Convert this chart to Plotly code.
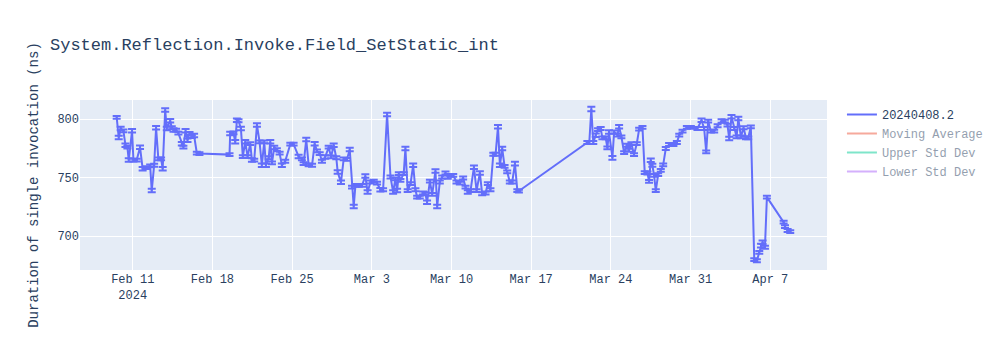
import pandas as pd
import plotly.graph_objects as go

day_offsets = [
    -1.41, -1.23, -1.06, -0.82, -0.64, -0.47, -0.35, -0.06, 0.06, 0.35,
    0.64, 0.87, 1.23, 1.53, 1.67, 1.88, 2.05, 2.25, 2.49, 2.63,
    2.85, 2.99, 3.29, 3.43, 3.58, 3.81, 4.01, 4.31, 4.45, 4.64,
    4.81, 4.99, 5.19, 5.39, 5.63, 5.86, 8.50, 8.56, 8.85, 9.00,
    9.15, 9.29, 9.50, 9.67, 9.88, 10.09, 10.32, 10.47, 10.67, 10.91,
    11.14, 11.34, 11.55, 11.70, 11.94, 12.08, 12.23, 12.43, 12.66, 12.90,
    13.10, 13.39, 13.84, 14.13, 14.57, 14.86, 15.01, 15.24, 15.45, 15.75,
    15.98, 16.18, 16.42, 16.62, 16.91, 17.21, 17.42, 17.65, 17.88, 18.00,
    18.29, 18.53, 18.82, 19.06, 19.26, 19.41, 19.56, 19.85, 20.14, 20.43,
    20.63, 20.88, 21.17, 21.46, 21.75, 21.99, 22.34, 22.64, 22.87, 23.07,
    23.22, 23.37, 23.51, 23.80, 23.95, 24.15, 24.40, 24.63, 24.83, 24.98,
    25.21, 25.50, 25.71, 25.85, 26.10, 26.30, 26.59, 26.74, 26.97, 27.18,
    27.47, 27.67, 27.92, 28.15, 28.44, 28.73, 29.02, 29.23, 29.43, 29.67,
    29.97, 30.20, 30.49, 30.69, 30.99, 31.19, 31.42, 31.67, 31.87, 32.08,
    32.25, 32.45, 32.66, 32.89, 33.12, 33.33, 33.57, 33.78, 33.92, 39.93,
    40.10, 40.28, 40.45, 40.67, 40.87, 41.10, 41.25, 41.54, 41.69, 41.83,
    42.13, 42.28, 42.57, 42.72, 42.92, 43.16, 43.39, 43.59, 43.80, 44.03,
    44.27, 44.48, 44.77, 44.97, 45.21, 45.35, 45.50, 45.64, 45.79, 45.94,
    46.15, 46.38, 46.59, 46.82, 47.11, 47.49, 47.79, 48.00, 48.29, 48.67,
    49.02, 49.60, 49.96, 50.19, 50.37, 50.54, 50.78, 51.07, 51.37, 51.72,
    52.01, 52.24, 52.39, 52.59, 52.83, 53.04, 53.19, 53.42, 53.65, 53.86,
    54.06, 54.29, 54.59, 54.82, 55.03, 55.18, 55.32, 55.53, 55.70, 57.17,
    57.29, 57.52, 57.75,
]

durations_ns = [
    801.4, 784.3, 792, 790, 777.7, 776, 765, 790, 765, 765,
    776, 757.7, 758.6, 760, 739, 760.6, 792.6, 766, 766, 757.7,
    807.7, 792, 798.6, 792.6, 790.6, 790.6, 788, 779, 776, 790,
    782, 787.7, 785, 786, 771, 770.6, 769.7, 787.7, 788.3, 780.6,
    799, 798.6, 792, 768, 780.6, 768, 779, 765, 765, 795,
    780.6, 760.6, 780.6, 760.6, 767, 780.6, 762.6, 775.7, 774, 771,
    760.6, 764, 778.6, 778.6, 768, 766, 762, 782.6, 761, 760.6,
    779, 772.9, 770.6, 764, 767.7, 776, 767.7, 777.7, 767, 754.9,
    746, 766, 765.7, 774, 742, 725.4, 743.4, 743.4, 743.4, 751.4,
    737.7, 746.3, 747, 745.4, 739.7, 739.7, 804, 750.6, 737.7, 749,
    739, 753.4, 747.7, 753.4, 774.9, 739, 744.9, 760.6, 739.7, 733.4,
    733.4, 736.9, 736.3, 729, 747, 735.7, 755.7, 725.4, 746.3, 750.6,
    754, 750.6, 752, 752, 746.3, 745.4, 749.7, 742, 737.7, 739,
    759, 739, 754, 736.3, 736.9, 744.9, 739.7, 770, 770, 793.4,
    760.6, 774.9, 759.7, 754.9, 746.3, 746.3, 762, 739, 738.6, 780,
    780, 808.6, 780, 786.3, 791, 792, 784, 784, 775.4, 789,
    766.9, 789, 786.3, 793.4, 784.9, 771.4, 777.7, 773.4, 779, 769.7,
    779, 791.4, 793, 754.3, 754, 746.9, 764.9, 760.6, 752, 739,
    752.6, 756.3, 761, 774.9, 778.3, 778.3, 780, 786.3, 789.7, 793,
    793, 792, 799, 792, 772, 798.3, 789.7, 789.7, 794.3, 798.3,
    798.3, 794.9, 783.4, 802, 792, 784.9, 800.6, 784.9, 792.6, 784,
    784, 793.4, 680, 679.1, 686.3, 692, 694.9, 690.6, 733.4, 712,
    708.3, 704.9, 704,
]

errors_ns = [
    1.2, 1.5, 1.5, 1.2, 1.5, 1.2, 1.5, 1.5, 1.2, 1.2,
    1.5, 1.5, 1.2, 1.2, 1.5, 1.2, 1.5, 1.2, 1.2, 1.5,
    1.5, 1.5, 1.5, 1.2, 1.5, 1.2, 1.2, 1.5, 1.2, 1.5,
    1.5, 1.2, 1.2, 1.5, 1.2, 1.2, 1.2, 1.5, 1.2, 1.5,
    1.5, 1.2, 1.5, 1.2, 1.5, 1.2, 1.2, 1.5, 1.2, 1.5,
    1.2, 1.5, 1.2, 1.5, 1.2, 1.5, 1.2, 1.5, 1.2, 1.2,
    1.5, 1.2, 1.2, 1.2, 1.5, 1.2, 1.2, 1.5, 1.2, 1.2,
    1.5, 1.2, 1.2, 1.2, 1.5, 1.2, 1.2, 1.5, 1.2, 1.5,
    1.5, 1.2, 1.2, 1.5, 1.2, 1.5, 1.2, 1.2, 1.2, 1.5,
    1.5, 1.2, 1.2, 1.2, 1.5, 1.2, 1.5, 1.2, 1.5, 1.2,
    1.5, 1.2, 1.2, 1.2, 1.5, 1.2, 1.2, 1.5, 1.2, 1.2,
    1.2, 1.2, 1.2, 1.5, 1.2, 1.2, 1.5, 1.5, 1.2, 1.2,
    1.2, 1.5, 1.2, 1.2, 1.2, 1.2, 1.2, 1.2, 1.5, 1.2,
    1.5, 1.2, 1.5, 1.2, 1.2, 1.2, 1.2, 1.2, 1.2, 1.5,
    1.5, 1.5, 1.2, 1.2, 1.2, 1.2, 1.5, 1.2, 1.2, 1.2,
    1.2, 2.0, 1.2, 1.5, 1.2, 1.2, 1.2, 1.2, 1.2, 1.5,
    1.5, 1.2, 1.2, 1.5, 1.2, 1.2, 1.2, 1.2, 1.2, 1.2,
    1.2, 1.2, 1.2, 1.2, 1.2, 1.2, 1.5, 1.2, 1.2, 1.2,
    1.2, 1.2, 1.2, 1.2, 1.2, 1.2, 1.2, 1.2, 1.2, 1.2,
    1.2, 1.2, 1.5, 1.2, 1.2, 1.2, 1.2, 1.2, 1.2, 1.5,
    1.2, 1.2, 1.5, 1.5, 1.2, 1.2, 1.5, 1.2, 1.2, 1.2,
    1.2, 1.2, 1.2, 1.2, 1.2, 1.5, 1.5, 1.2, 1.2, 1.2,
    1.2, 1.2, 1.2,
]

series_name = "20240408.2"
title_text = "System.Reflection.Invoke.Field_SetStatic_int"
y_title = "Duration of single invocation (ns)"
extra_names = ["Moving Average", "Upper Std Dev", "Lower Std Dev"]
extra_colors = ["#EF553B", "#00cc96", "#ab63fa"]

dates = pd.Timestamp("2024-02-11") + pd.to_timedelta(day_offsets, unit="D")

fig = go.Figure()
fig.add_trace(go.Scatter(
    x=dates, y=durations_ns, mode="lines", name=series_name,
    line=dict(color="#636efa", width=2),
    error_y=dict(type="data", array=errors_ns, visible=True,
                 color="#636efa", thickness=2, width=4),
))
for nm, col in zip(extra_names, extra_colors):
    fig.add_trace(go.Scatter(
        x=dates, y=durations_ns, mode="lines", name=nm,
        line=dict(color=col, width=2), visible="legendonly",
    ))

font_family = "Courier New, Liberation Mono, monospace"
fig.update_layout(
    width=1000, height=350,
    template="plotly",
    font=dict(family=font_family, size=12),
    title=dict(text=title_text, font=dict(size=17, family=font_family)),
    yaxis=dict(title=dict(text=y_title, font=dict(size=14)),
               range=[671.2, 816.3]),
    xaxis=dict(range=["2024-02-06 08:50", "2024-04-11 23:30"]),
    margin=dict(l=80, r=80, t=100, b=80),
)
fig.write_html("out.html")
